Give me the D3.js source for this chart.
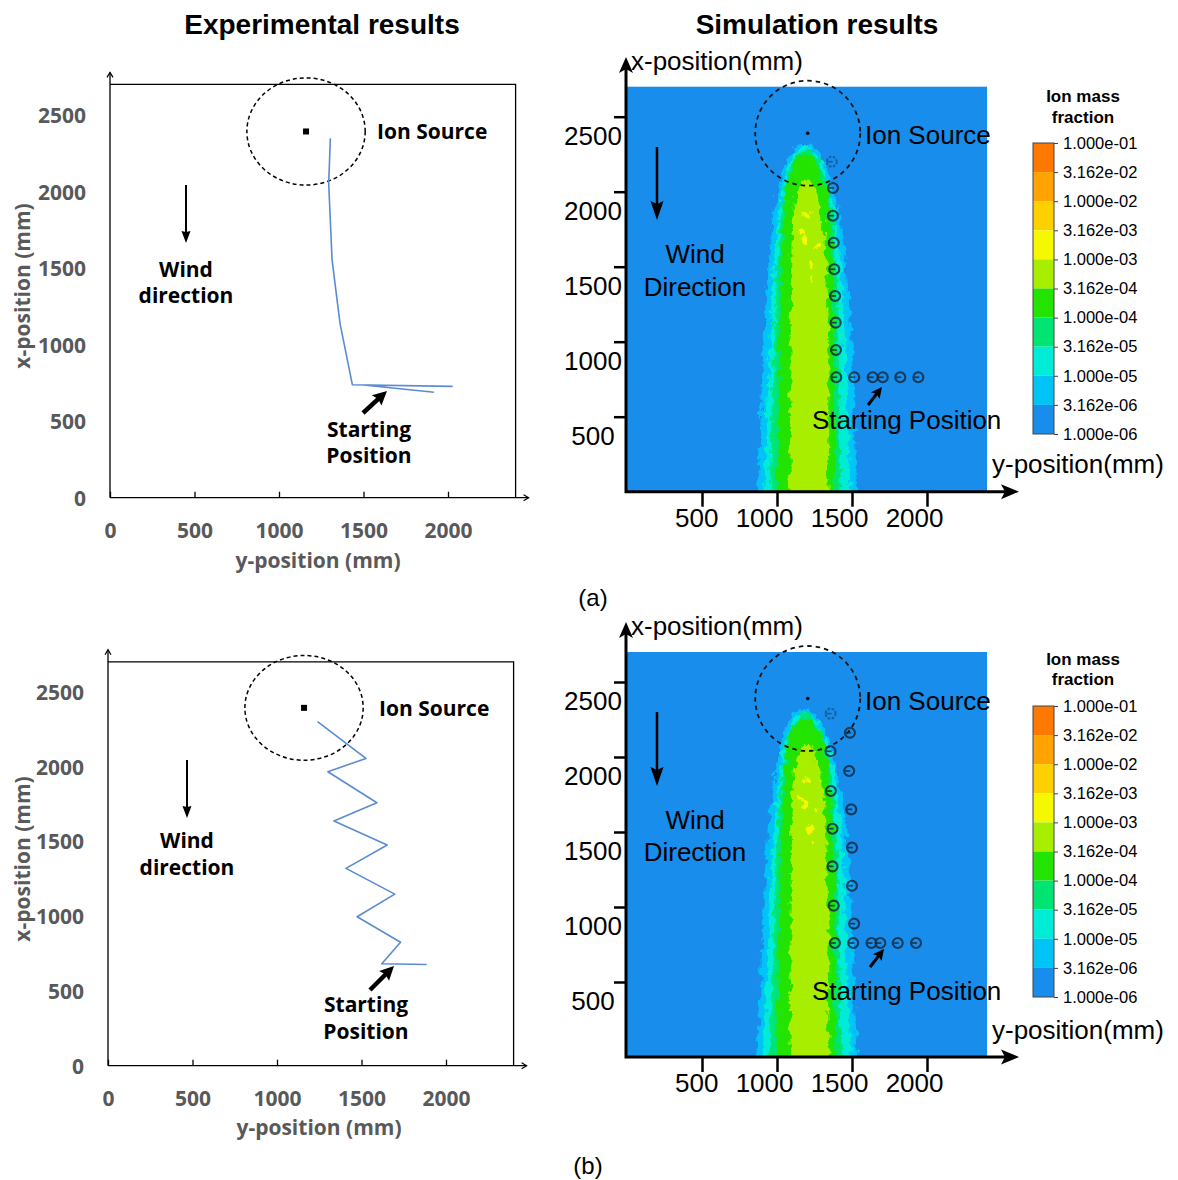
<!DOCTYPE html>
<html>
<head>
<meta charset="utf-8">
<script src="https://cdn.jsdelivr.net/npm/d3@7"></script>
<style>
  html, body { margin: 0; padding: 0; background: #fff; }
  svg { display: block; }
</style>
</head>
<body>
<svg id="fig" width="1178" height="1180"></svg>
<script>
// ---------------- data ----------------
const fieldSize = [2400, 2700];            // [y-position, x-position] extent of the test area (mm)
const expXTicks = [0, 500, 1000, 1500, 2000];
const expYTicks = [0, 500, 1000, 1500, 2000, 2500];
const simXTicks = [500, 1000, 1500, 2000];
const simYTicks = [500, 1000, 1500, 2000, 2500];

// measured robot paths, [y-position, x-position] in mm
const expPathA = [[1304, 2348], [1294, 2054], [1314, 1553], [1361, 1139], [1434, 738],
                  [2024, 727], [1500, 736], [1917, 689]];
const expPathB = [[1240, 2300], [1526, 2054], [1301, 1965], [1591, 1758], [1337, 1635],
                  [1652, 1475], [1408, 1319], [1697, 1147], [1474, 996], [1731, 825],
                  [1620, 681], [1886, 676]];

// simulated robot positions, [y-position, x-position] in mm; the first one is the final position
const simPathA = [[1365, 2200], [1373, 2025], [1373, 1840], [1378, 1660], [1382, 1483],
                  [1387, 1305], [1391, 1127], [1393, 945], [1395, 763], [1515, 763],
                  [1638, 763], [1705, 763], [1822, 763], [1942, 763]];
const simPathB = [[1357, 2289], [1486, 2162], [1357, 2038], [1481, 1907], [1359, 1773],
                  [1495, 1651], [1370, 1522], [1500, 1396], [1370, 1271], [1500, 1142],
                  [1378, 1009], [1514, 889], [1386, 760], [1508, 760], [1630, 760],
                  [1689, 760], [1805, 760], [1927, 760]];

const expSource = [1160, 2392];            // [y-position, x-position] (mm)
const simSource = [1205, 2390];
const sourceRadius = 350;                  // radius of the dashed source zone (mm)

// ion mass fraction levels (colour bar, top to bottom) and the band colours between them
const levelLabels = ["1.000e-01", "3.162e-02", "1.000e-02", "3.162e-03", "1.000e-03", "3.162e-04",
                     "1.000e-04", "3.162e-05", "1.000e-05", "3.162e-06", "1.000e-06"];
const levelColors = ["#ff7800", "#ffa300", "#ffcf00", "#f6f800", "#a8ee00",
                     "#22e400", "#00e474", "#00ecd6", "#00c4f6", "#188dec"];

// plume contours: [x-position, left y-position, right y-position] in mm
const contour3162e6 = [[-100, 862, 1540], [0, 868, 1535], [300, 885, 1522], [600, 896, 1511],
  [900, 907, 1500], [1200, 918, 1489], [1500, 940, 1466], [1800, 972, 1422], [2000, 1005, 1378],
  [2100, 1028, 1346], [2200, 1060, 1312], [2270, 1098, 1268], [2318, 1150, 1215]];
const contour1e5 = [[-100, 905, 1495], [0, 908, 1492], [300, 926, 1477], [600, 936, 1467],
  [900, 947, 1457], [1200, 957, 1446], [1500, 978, 1426], [1800, 1005, 1396], [2000, 1030, 1360],
  [2100, 1052, 1328], [2200, 1085, 1292], [2260, 1120, 1250], [2292, 1160, 1210]];
const contour3162e5 = [[-100, 948, 1432], [0, 950, 1430], [300, 963, 1420], [600, 971, 1415],
  [900, 979, 1411], [1200, 988, 1406], [1500, 1002, 1398], [1800, 1022, 1374], [2000, 1043, 1344],
  [2100, 1064, 1316], [2200, 1098, 1282], [2250, 1130, 1245], [2278, 1165, 1215]];
const contour1e4 = [[-100, 995, 1393], [0, 997, 1392], [300, 1007, 1387], [600, 1012, 1386],
  [900, 1017, 1385], [1200, 1022, 1382], [1500, 1030, 1376], [1800, 1043, 1356], [2000, 1056, 1331],
  [2100, 1076, 1304], [2200, 1112, 1268], [2248, 1150, 1232]];
const contour3162e4 = [[-100, 1080, 1345], [0, 1082, 1344], [300, 1087, 1342], [600, 1089, 1341],
  [900, 1090, 1345], [1200, 1092, 1336], [1500, 1094, 1328], [1800, 1100, 1310], [1950, 1118, 1280],
  [2040, 1150, 1240], [2080, 1180, 1215]];
// small regions above 1.000e-03: [y-position, x-position, half width, half height] (mm)
const spots1e3 = [[1186, 1678, 22, 30], [1222, 1522, 18, 35], [1165, 1724, 15, 20],
                  [1262, 1644, 15, 18], [1200, 1850, 18, 22], [1235, 1420, 12, 25]];
const plumeBands = [[contour3162e6, 8], [contour1e5, 7], [contour3162e5, 6], [contour1e4, 5], [contour3162e4, 4]];

// ---------------- drawing ----------------
const svg = d3.select("#fig");
const defs = svg.append("defs");
const EXP_FONT = "'Open Sans', 'Noto Sans', sans-serif";
const SIM_FONT = "'Liberation Sans', Arial, sans-serif";
const GREY = "#595959";
const fmt = d3.format("d");

function text(g, x, y, str, font, anchor, fill) {
  return g.append("text").attr("x", x).attr("y", y).attr("text-anchor", anchor || "start")
    .attr("fill", fill || "#000").style("font", font).text(str);
}

// filled arrow head with a notched base, pointing from (x1,y1) to (x2,y2)
function arrow(g, x1, y1, x2, y2, sw, len, half, notch) {
  const a = Math.atan2(y2 - y1, x2 - x1), ux = Math.cos(a), uy = Math.sin(a);
  const px = -uy, py = ux;
  const bx = x2 - ux * len, by = y2 - uy * len;
  const nx = x2 - ux * (len - notch), ny = y2 - uy * (len - notch);
  g.append("line").attr("x1", x1).attr("y1", y1).attr("x2", nx + ux).attr("y2", ny + uy)
    .attr("stroke", "#000").attr("stroke-width", sw);
  g.append("path")
    .attr("d", `M${x2},${y2}L${bx + px * half},${by + py * half}L${nx},${ny}L${bx - px * half},${by - py * half}Z`)
    .attr("fill", "#000");
}

svg.append("text").attr("x", 322).attr("y", 34).attr("text-anchor", "middle")
  .style("font", `bold 28px ${SIM_FONT}`).text("Experimental results");
svg.append("text").attr("x", 817).attr("y", 34).attr("text-anchor", "middle")
  .style("font", `bold 28px ${SIM_FONT}`).text("Simulation results");
svg.append("text").attr("x", 593).attr("y", 606).attr("text-anchor", "middle")
  .style("font", `24px ${SIM_FONT}`).text("(a)");
svg.append("text").attr("x", 588).attr("y", 1174).attr("text-anchor", "middle")
  .style("font", `24px ${SIM_FONT}`).text("(b)");

// ---------- experimental panels ----------
function drawExp(p) {
  const g = svg.append("g");
  const x = d3.scaleLinear().domain([0, fieldSize[0]]).range([p.left, p.left + fieldSize[0] * 0.169]);
  const y = d3.scaleLinear().domain([0, fieldSize[1]]).range([p.bottom, p.bottom - fieldSize[1] * p.ky]);
  const [x0, x1] = x.range(), [y0, y1] = y.range();

  g.append("path").attr("d", `M${x0},${y1}H${x1}V${y0}`)
    .attr("fill", "none").attr("stroke", "#000").attr("stroke-width", 1.3);
  g.append("path").attr("d", `M${x0},${y0}V${y1 - 12}M${x0},${y0}H${x1 + 13}`)
    .attr("fill", "none").attr("stroke", "#000").attr("stroke-width", 1.3);
  g.append("path").attr("d", `M${x0 - 3},${y1 - 7}L${x0},${y1 - 12}L${x0 + 3},${y1 - 7}`)
    .attr("fill", "none").attr("stroke", "#000").attr("stroke-width", 1.2);
  g.append("path").attr("d", `M${x1 + 8},${y0 - 3}L${x1 + 13},${y0}L${x1 + 8},${y0 + 3}`)
    .attr("fill", "none").attr("stroke", "#000").attr("stroke-width", 1.2);

  g.append("g").attr("transform", `translate(0,${y0})`)
    .call(d3.axisBottom(x).tickValues(expXTicks).tickFormat(fmt).tickSizeInner(-6).tickSizeOuter(0))
    .call(s => s.select(".domain").remove())
    .call(s => s.selectAll("line").attr("stroke", "#000").attr("stroke-width", 1.3))
    .call(s => s.selectAll("text").attr("y", 40).attr("dy", null).attr("fill", GREY)
      .style("font", `bold 21px ${EXP_FONT}`));
  g.append("g").attr("transform", `translate(${x0},0)`)
    .call(d3.axisLeft(y).tickValues(expYTicks).tickFormat(fmt).tickSize(0).tickPadding(24))
    .call(s => s.select(".domain").remove())
    .call(s => s.selectAll("text").attr("dy", "0.36em").attr("fill", GREY)
      .style("font", `bold 21px ${EXP_FONT}`));

  text(g, p.xLabel[0], p.xLabel[1], "y-position (mm)", `bold 21px ${EXP_FONT}`, "middle", GREY);
  g.append("text").attr("transform", `translate(${p.yLabel[0]},${p.yLabel[1]}) rotate(-90)`)
    .attr("text-anchor", "middle").attr("fill", GREY).style("font", `bold 21px ${EXP_FONT}`)
    .text("x-position (mm)");

  // source zone
  g.append("ellipse").attr("cx", x(expSource[0])).attr("cy", y(expSource[1]))
    .attr("rx", x(sourceRadius) - x(0)).attr("ry", y(0) - y(sourceRadius))
    .attr("fill", "none").attr("stroke", "#000").attr("stroke-width", 1.5).attr("stroke-dasharray", "4,3");
  g.append("rect").attr("x", x(expSource[0]) - 3).attr("y", y(expSource[1]) - 3)
    .attr("width", 6).attr("height", 6).attr("fill", "#000");

  g.append("path").datum(p.path)
    .attr("d", d3.line().x(d => x(d[0])).y(d => y(d[1])))
    .attr("fill", "none").attr("stroke", "#5b8bd1").attr("stroke-width", 1.6).attr("stroke-linejoin", "round");

  const bold = `bold 21px ${EXP_FONT}`;
  text(g, p.ion[0], p.ion[1], "Ion Source", bold);
  arrow(g, p.wind[0], p.wind[1], p.wind[0], p.wind[2], 2, 12, 4.5, 1);
  text(g, p.wind[0], p.windText[0], "Wind", bold, "middle");
  text(g, p.wind[0], p.windText[1], "direction", bold, "middle");
  arrow(g, p.startArrow[0], p.startArrow[1], p.startArrow[2], p.startArrow[3], 4.5, 14, 7, 2);
  text(g, p.startText[0], p.startText[1], "Starting", bold, "middle");
  text(g, p.startText[0], p.startText[2], "Position", bold, "middle");
}

drawExp({ left: 110, bottom: 497.7, ky: 0.1531, path: expPathA,
  xLabel: [318, 568], yLabel: [30, 286], ion: [377, 139],
  wind: [186, 185, 243], windText: [277, 303],
  startArrow: [363, 413, 387, 391], startText: [369, 437, 463] });
drawExp({ left: 108, bottom: 1065.7, ky: 0.1496, path: expPathB,
  xLabel: [319, 1135], yLabel: [30, 859], ion: [379, 716],
  wind: [187, 760, 818], windText: [848, 875],
  startArrow: [370, 990, 394, 966], startText: [366, 1012, 1039] });

// ---------- simulation panels ----------
// ragged contour edges
[0, 1, 2, 3, 4, 5].forEach(i => {
  const f = defs.append("filter").attr("id", "rag" + i)
    .attr("x", "-10%").attr("y", "-10%").attr("width", "120%").attr("height", "120%");
  f.append("feTurbulence").attr("type", "fractalNoise").attr("baseFrequency", "0.16 0.12")
    .attr("numOctaves", 3).attr("seed", 3 + i * 7).attr("result", "n");
  f.append("feDisplacementMap").attr("in", "SourceGraphic").attr("in2", "n").attr("scale", 11)
    .attr("xChannelSelector", "R").attr("yChannelSelector", "G").attr("result", "d");
  f.append("feGaussianBlur").attr("in", "d").attr("stdDeviation", 0.6);
});

function drawSim(p, id) {
  const g = svg.append("g");
  const x = d3.scaleLinear().domain([0, fieldSize[0]]).range([627, 627 + fieldSize[0] * 0.15]);
  const y = d3.scaleLinear().domain([0, fieldSize[1]]).range([p.bottom, p.bottom - fieldSize[1] * 0.15]);
  const [x0, x1] = x.range(), [y0, y1] = y.range();

  defs.append("clipPath").attr("id", "field" + id).append("rect")
    .attr("x", x0).attr("y", y1).attr("width", x1 - x0).attr("height", y0 - y1);
  g.append("rect").attr("x", x0).attr("y", y1).attr("width", x1 - x0).attr("height", y0 - y1)
    .attr("fill", levelColors[9]);

  const plume = g.append("g").attr("clip-path", `url(#field${id})`);
  const band = d3.area().curve(d3.curveBasis)
    .y(d => y(d[0])).x0(d => x(d[1])).x1(d => x(d[2]));
  plumeBands.forEach(([rows, ci], i) => {
    plume.append("path").datum(rows).attr("d", band)
      .attr("fill", levelColors[ci]).attr("filter", `url(#rag${i})`);
  });
  plume.append("g").attr("filter", "url(#rag5)").selectAll("ellipse").data(spots1e3).join("ellipse")
    .attr("cx", d => x(d[0])).attr("cy", d => y(d[1]))
    .attr("rx", d => x(d[2]) - x(0)).attr("ry", d => y(0) - y(d[3]))
    .attr("fill", levelColors[3]);

  // source zone
  g.append("circle").attr("cx", x(simSource[0])).attr("cy", y(simSource[1]))
    .attr("r", x(sourceRadius) - x(0))
    .attr("fill", "none").attr("stroke", "#111").attr("stroke-width", 1.8).attr("stroke-dasharray", "4.5,4");
  g.append("circle").attr("cx", x(simSource[0])).attr("cy", y(simSource[1])).attr("r", 1.8).attr("fill", "#000");

  // robot positions
  const m = g.append("g").selectAll("g").data(p.path).join("g")
    .attr("transform", d => `translate(${x(d[0])},${y(d[1])})`)
    .attr("opacity", (d, i) => i === 0 ? 0.45 : 0.85);
  m.append("circle").attr("r", 5).attr("fill", "none").attr("stroke", "#132d44").attr("stroke-width", 2.1)
    .attr("stroke-dasharray", (d, i) => i === 0 ? "2.5,1.5" : null);
  m.append("line").attr("x1", -5).attr("x2", 1).attr("stroke", "#132d44").attr("stroke-width", 1.7);

  // axes
  g.append("path").attr("d", `M${x0 - 1},${y0}V${p.tipY + 8}M${x0 - 2.5},${y0}H${1010}`)
    .attr("fill", "none").attr("stroke", "#000").attr("stroke-width", 3);
  arrow(g, x0 - 1, p.tipY + 16, x0 - 1, p.tipY, 0, 16, 7, 4);
  arrow(g, 1000, y0, 1019, y0, 0, 18, 7.5, 4);
  g.append("g").attr("transform", `translate(${x0 - 1},0)`)
    .call(d3.axisLeft(y).tickValues(simYTicks).tickFormat(fmt).tickSize(12).tickSizeOuter(0))
    .call(s => s.select(".domain").remove())
    .call(s => s.selectAll("line").attr("stroke", "#000").attr("stroke-width", 2.5))
    .call(s => s.selectAll("text").attr("x", -33).attr("y", 27.5).attr("dy", null)
      .attr("text-anchor", "middle").attr("fill", "#000").style("font", `26px ${SIM_FONT}`));
  g.append("g").attr("transform", `translate(0,${y0})`)
    .call(d3.axisBottom(x).tickValues(simXTicks).tickFormat(fmt).tickSize(15).tickSizeOuter(0))
    .call(s => s.select(".domain").remove())
    .call(s => s.selectAll("line").attr("stroke", "#000").attr("stroke-width", 2.5))
    .call(s => s.selectAll("text").attr("x", 16).attr("y", 35).attr("dy", null)
      .attr("text-anchor", "end").attr("fill", "#000").style("font", `26px ${SIM_FONT}`));

  const f = `26px ${SIM_FONT}`;
  text(g, 631, p.tipY + 13, "x-position(mm)", f);
  text(g, 992, p.yLabelY, "y-position(mm)", f);
  text(g, 865, p.ionY, "Ion Source", f);
  text(g, 695, p.windText[0], "Wind", f, "middle");
  text(g, 695, p.windText[1], "Direction", f, "middle");
  arrow(g, 657, p.wind[0], 657, p.wind[1], 2.5, 19, 6.5, 3);
  text(g, 812, p.startY, "Starting Position", f);
  arrow(g, p.startArrow[0], p.startArrow[1], p.startArrow[2], p.startArrow[3], 3, 11, 5.5, 2);

  // colour bar
  const cb = g.append("g");
  const cy = d3.scalePoint().domain(levelLabels).range([p.cbTop, p.cbTop + 291]);
  cb.selectAll("rect").data(levelColors).join("rect")
    .attr("x", 1033).attr("width", 21)
    .attr("y", (d, i) => cy(levelLabels[i]))
    .attr("height", (d, i) => cy(levelLabels[i + 1]) - cy(levelLabels[i]))
    .attr("fill", d => d);
  cb.append("rect").attr("x", 1033).attr("y", p.cbTop).attr("width", 21).attr("height", 291)
    .attr("fill", "none").attr("stroke", "#444").attr("stroke-width", 1);
  cb.append("g").attr("transform", "translate(1054,0)")
    .call(d3.axisRight(cy).tickSize(4).tickPadding(5).tickSizeOuter(0))
    .call(s => s.select(".domain").remove())
    .call(s => s.selectAll("line").attr("stroke", "#444"))
    .call(s => s.selectAll("text").attr("fill", "#000").style("font", `16.5px ${SIM_FONT}`));
  text(cb, 1083, p.cbTitle[0], "Ion mass", `bold 17px ${SIM_FONT}`, "middle");
  text(cb, 1083, p.cbTitle[1], "fraction", `bold 17px ${SIM_FONT}`, "middle");
}

drawSim({ bottom: 491.7, tipY: 57, path: simPathA, yLabelY: 473, ionY: 144,
  windText: [263, 296], wind: [147, 220], startY: 429, startArrow: [868, 405, 882, 387],
  cbTop: 143, cbTitle: [102, 123] }, "A");
drawSim({ bottom: 1057, tipY: 622, path: simPathB, yLabelY: 1039, ionY: 709.5,
  windText: [829, 861], wind: [712, 786], startY: 1000, startArrow: [870, 967, 884, 949],
  cbTop: 706, cbTitle: [665, 685] }, "B");
</script>
</body>
</html>
